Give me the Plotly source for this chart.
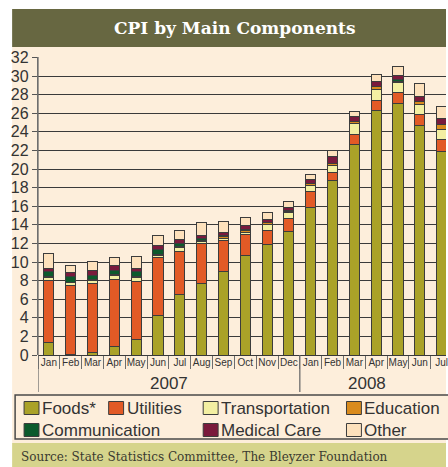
import plotly.graph_objects as go

# ---- data ----
months = ["Jan", "Feb", "Mar", "Apr", "May", "Jun", "Jul", "Aug", "Sep", "Oct", "Nov", "Dec",
          "Jan", "Feb", "Mar", "Apr", "May", "Jun", "Jul"]
years = ["2007"] * 12 + ["2008"] * 7
foods = [1.3, 0.05, 0.25, 0.9, 1.7, 4.25, 6.55, 7.7, 8.95, 10.75, 11.9, 13.25,
         15.9, 18.75, 22.65, 26.35, 27.05, 24.65, 21.9]
utilities = [6.7, 7.4, 7.4, 7.25, 6.25, 6.2, 4.55, 4.3, 3.35, 2.2, 1.5, 1.4,
             1.65, 0.85, 1.1, 1.05, 1.2, 1.25, 1.3]
transportation = [0.35, 0.3, 0.35, 0.35, 0.4, 0.3, 0.45, 0.25, 0.25, 0.25, 0.65, 0.65,
                  0.65, 0.75, 1.1, 1.2, 1.05, 1.05, 1.1]
education = [0.1, 0.1, 0.1, 0.15, 0.1, 0.1, 0.1, 0.1, 0.15, 0.2, 0.15, 0.15,
             0.2, 0.25, 0.25, 0.25, 0.1, 0.3, 0.45]
communication = [0.55, 0.55, 0.5, 0.45, 0.5, 0.5, 0.3, 0.15, 0.1, 0.1, 0.1, 0.1,
                 0.05, 0.05, 0.05, 0.05, 0.25, 0.05, 0.05]
medical_care = [0.3, 0.45, 0.45, 0.5, 0.4, 0.45, 0.5, 0.4, 0.4, 0.4, 0.3, 0.35,
                0.45, 0.7, 0.5, 0.5, 0.45, 0.5, 0.6]
other = [1.65, 0.75, 1.05, 0.9, 1.25, 1.1, 0.95, 1.3, 1.2, 0.85, 0.7, 0.65,
         0.5, 0.6, 0.55, 0.75, 0.9, 1.45, 1.3]
y_ticks = list(range(0, 33, 2))

series = [
    ("Foods*", foods, "#aaa228"),
    ("Utilities", utilities, "#e25a26"),
    ("Transportation", transportation, "#f3efa2"),
    ("Education", education, "#d98b1d"),
    ("Communication", communication, "#0c5a2c"),
    ("Medical Care", medical_care, "#7a1a3c"),
    ("Other", other, "#fde1bc"),
]

cats = [f"{m} {y}" for m, y in zip(months, years)]

# ---- geometry of the page ----
W, H = 448, 467
L, R, T, B = 38, 448, 57, 355
PW, PH = R - L, B - T


def px(x):
    return (x - L) / PW


def py(y):
    return (B - y) / PH


fig = go.Figure()
for name, vals, col in series:
    fig.add_trace(go.Bar(
        x=cats, y=vals, name=name, marker=dict(color=col, line=dict(color="#3c3c3c", width=1)),
        showlegend=False, hoverinfo="y+name"))

shapes = []
# background bands
shapes.append(dict(type="rect", xref="paper", yref="paper", x0=px(12), x1=px(448), y0=py(443), y1=py(47),
                   fillcolor="#fdeedb", line=dict(width=0), layer="below"))
shapes.append(dict(type="rect", xref="paper", yref="paper", x0=px(12), x1=px(448), y0=py(47), y1=py(9),
                   fillcolor="#676741", line=dict(width=0), layer="below"))
shapes.append(dict(type="rect", xref="paper", yref="paper", x0=px(12), x1=px(448), y0=py(467), y1=py(443),
                   fillcolor="#d6d48c", line=dict(width=0), layer="below"))
# legend box
shapes.append(dict(type="rect", xref="paper", yref="paper", x0=px(15), x1=px(455), y0=py(439), y1=py(395),
                   fillcolor="#fdeedb", line=dict(color="#4a4a4a", width=1.5), layer="below"))
# year dividers
for xb in (-0.5, 11.5):
    shapes.append(dict(type="line", xref="x", yref="paper", x0=xb, x1=xb, y0=py(392), y1=0 if xb > 0 else 1,
                       line=dict(color="#6e6e6e", width=1.3)))

annotations = []
# legend entries
legend_items = [
    ("Foods*", "#aaa228", 24, 408), ("Utilities", "#e25a26", 109, 408),
    ("Transportation", "#f3efa2", 204, 408), ("Education", "#d98b1d", 348, 408),
    ("Communication", "#0c5a2c", 24, 430), ("Medical Care", "#7a1a3c", 204, 430),
    ("Other", "#fde1bc", 348, 430),
]
for lab, col, sx, cy in legend_items:
    shapes.append(dict(type="rect", xref="paper", yref="paper", x0=px(sx), x1=px(sx + 15),
                       y0=py(cy + 6.5), y1=py(cy - 6.5), fillcolor=col,
                       line=dict(color="#3c3c3c", width=1)))
    annotations.append(dict(xref="paper", yref="paper", x=px(sx + 16), y=py(cy), text=lab,
                            showarrow=False, xanchor="left", yanchor="middle",
                            font=dict(family="Liberation Sans, Arial, sans-serif", size=17, color="#333333")))

# year labels
annotations.append(dict(xref="x", yref="paper", x=5.5, y=py(383), text="2007", showarrow=False,
                        xanchor="center", yanchor="middle",
                        font=dict(family="Liberation Sans, Arial, sans-serif", size=17, color="#333333")))
annotations.append(dict(xref="x", yref="paper", x=14.6, y=py(383), text="2008", showarrow=False,
                        xanchor="center", yanchor="middle",
                        font=dict(family="Liberation Sans, Arial, sans-serif", size=17, color="#333333")))
# title
annotations.append(dict(xref="paper", yref="paper", x=px(235), y=py(28), text="<b>CPI by Main Components</b>",
                        showarrow=False, xanchor="center", yanchor="middle",
                        font=dict(family="DejaVu Serif, serif", size=17, color="#ffffff")))
# source
annotations.append(dict(xref="paper", yref="paper", x=px(19), y=py(457),
                        text="Source: State Statistics Committee, The Bleyzer Foundation",
                        showarrow=False, xanchor="left", yanchor="middle",
                        font=dict(family="DejaVu Serif, serif", size=12, color="#3a3a30")))

fig.update_layout(
    width=W, height=H,
    margin=dict(l=L, r=W - R, t=T, b=H - B, pad=0),
    barmode="stack", bargap=0.54,
    paper_bgcolor="#ffffff", plot_bgcolor="rgba(0,0,0,0)",
    shapes=shapes, annotations=annotations, showlegend=False,
    xaxis=dict(type="category", range=[-0.5, 18.2], tickmode="array", tickvals=cats, ticktext=months,
               tickson="boundaries", ticks="outside", ticklen=13, tickcolor="#6e6e6e", tickwidth=1,
               ticklabelstandoff=0, tickangle=0,
               tickfont=dict(family="Liberation Sans, Arial, sans-serif", size=10, color="#333333"),
               showgrid=False, showline=False, zeroline=False, fixedrange=True),
    yaxis=dict(range=[0, 32.05], tickmode="array", tickvals=y_ticks, ticks="outside", ticklen=5,
               tickcolor="#555555", tickfont=dict(family="Liberation Sans, Arial, sans-serif", size=16,
                                                  color="#333333"),
               showgrid=True, gridcolor="#3a3a3a", gridwidth=1, zeroline=True, zerolinecolor="#3a3a3a",
               zerolinewidth=1, showline=True, linecolor="#6e6e6e", linewidth=1.3, fixedrange=True),
)

fig.write_html("out.html", config={"displayModeBar": False},
               post_script="document.body.style.margin='0px';document.body.style.overflow='hidden';")
